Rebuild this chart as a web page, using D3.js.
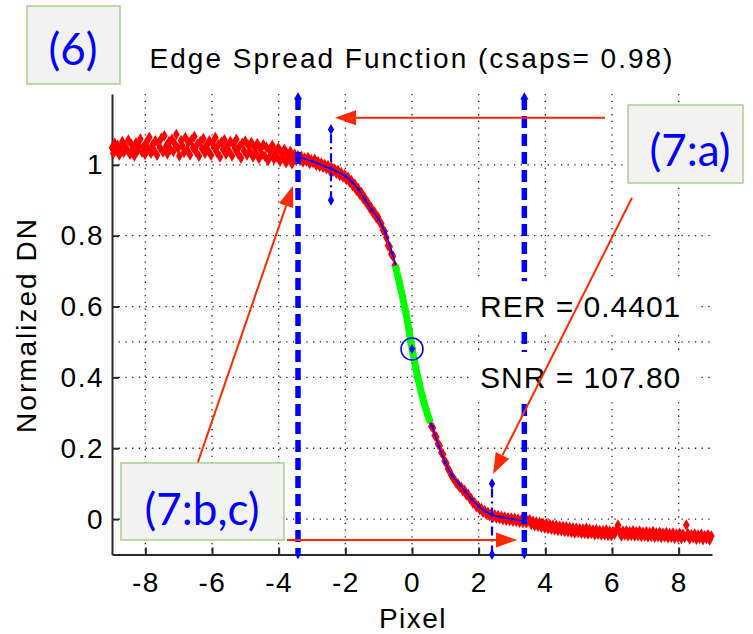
<!DOCTYPE html>
<html><head><meta charset="utf-8">
<script src="https://cdn.jsdelivr.net/npm/d3@7"></script>
<style>body{margin:0;background:#fff}svg{display:block}</style>
</head><body><svg id="c" width="753" height="634"></svg>
<script>
// ---------- data ----------
const xTicks = [-8, -6, -4, -2, 0, 2, 4, 6, 8];
const yTicks = [0, 0.2, 0.4, 0.6, 0.8, 1];
const halfLevel = 0.5;
const titleText = "Edge Spread Function (csaps= 0.98)";
const xLabel = "Pixel";
const yLabel = "Normalized DN";

// red ESF samples (flat high side)
const esfLeft = [[-9.00,1.048],[-8.96,1.032],[-8.92,1.061],[-8.87,1.040],[-8.83,1.055],[-8.78,1.028],[-8.74,1.050],[-8.69,1.066],[-8.65,1.035],[-8.60,1.052],[-8.55,1.043],[-8.51,1.070],[-8.46,1.030],[-8.42,1.058],[-8.37,1.047],[-8.33,1.025],[-8.28,1.062],[-8.24,1.039],[-8.19,1.054],[-8.15,1.073],[-8.10,1.036],[-8.06,1.050],[-8.01,1.029],[-7.97,1.064],[-7.92,1.045],[-7.88,1.078],[-7.83,1.033],[-7.79,1.056],[-7.74,1.041],[-7.70,1.068],[-7.65,1.027],[-7.61,1.060],[-7.56,1.048],[-7.52,1.075],[-7.47,1.036],[-7.43,1.082],[-7.38,1.052],[-7.34,1.031],[-7.29,1.066],[-7.25,1.044],[-7.20,1.072],[-7.16,1.038],[-7.11,1.059],[-7.07,1.086],[-7.02,1.047],[-6.98,1.025],[-6.93,1.069],[-6.89,1.054],[-6.84,1.035],[-6.80,1.077],[-6.75,1.043],[-6.71,1.062],[-6.66,1.028],[-6.62,1.070],[-6.57,1.049],[-6.53,1.080],[-6.48,1.037],[-6.44,1.058],[-6.39,1.024],[-6.35,1.066],[-6.30,1.046],[-6.26,1.074],[-6.21,1.033],[-6.17,1.055],[-6.12,1.041],[-6.08,1.068],[-6.03,1.027],[-5.99,1.061],[-5.94,1.050],[-5.90,1.077],[-5.85,1.035],[-5.81,1.057],[-5.76,1.022],[-5.72,1.064],[-5.67,1.044],[-5.63,1.071],[-5.58,1.030],[-5.54,1.053],[-5.49,1.039],[-5.45,1.066],[-5.40,1.025],[-5.36,1.058],[-5.31,1.046],[-5.27,1.072],[-5.22,1.031],[-5.18,1.052],[-5.13,1.019],[-5.09,1.061],[-5.04,1.040],[-5.00,1.067],[-4.95,1.028],[-4.91,1.055],[-4.86,1.037],[-4.82,1.063],[-4.77,1.022],[-4.73,1.049],[-4.68,1.034],[-4.64,1.060],[-4.59,1.018],[-4.55,1.046],[-4.50,1.030],[-4.46,1.057],[-4.41,1.024],[-4.37,1.050],[-4.32,1.012],[-4.28,1.042],[-4.23,1.028],[-4.19,1.055],[-4.14,1.016],[-4.10,1.038],[-4.05,1.023],[-4.01,1.048],[-3.96,1.010],[-3.92,1.035],[-3.87,1.020],[-3.83,1.044],[-3.78,1.006],[-3.74,1.030],[-3.69,1.015],[-3.65,1.038],[-3.60,1.003],[-3.56,1.025]];

// red ESF samples (transition)
const esfMid = [[-3.52,1.030],[-3.47,1.012],[-3.42,1.026],[-3.37,1.015],[-3.32,1.024],[-3.27,1.008],[-3.22,1.019],[-3.17,1.011],[-3.12,1.021],[-3.07,1.004],[-3.02,1.014],[-2.97,1.006],[-2.92,1.016],[-2.87,0.999],[-2.82,1.009],[-2.77,0.996],[-2.72,1.005],[-2.67,0.993],[-2.62,1.001],[-2.57,0.990],[-2.52,0.998],[-2.47,0.985],[-2.42,0.993],[-2.37,0.981],[-2.32,0.988],[-2.27,0.976],[-2.22,0.984],[-2.17,0.970],[-2.12,0.978],[-2.07,0.966],[-2.02,0.972],[-1.97,0.959],[-1.92,0.965],[-1.87,0.951],[-1.82,0.956],[-1.77,0.940],[-1.72,0.946],[-1.67,0.928],[-1.62,0.934],[-1.57,0.917],[-1.52,0.922],[-1.47,0.905],[-1.42,0.908],[-1.37,0.892],[-1.32,0.893],[-1.27,0.878],[-1.22,0.879],[-1.17,0.864],[-1.12,0.866],[-1.07,0.851],[-1.02,0.853],[-0.97,0.838],[-0.92,0.834],[-0.87,0.816],[-0.82,0.812],[-0.77,0.795],[-0.72,0.772],[-0.67,0.769],[-0.62,0.748],[-0.57,0.742],[-0.52,0.716],[-0.47,0.708],[-0.42,0.683],[-0.37,0.670],[-0.32,0.641],[-0.27,0.628],[-0.22,0.601],[-0.17,0.585],[-0.12,0.556],[-0.07,0.535],[-0.02,0.498],[0.03,0.480],[0.08,0.447],[0.13,0.430],[0.18,0.398],[0.23,0.384],[0.28,0.357],[0.33,0.347],[0.38,0.321],[0.43,0.312],[0.48,0.290],[0.53,0.282],[0.58,0.262],[0.63,0.257],[0.68,0.236],[0.73,0.232],[0.78,0.212],[0.83,0.207],[0.88,0.188],[0.93,0.183],[0.98,0.164],[1.03,0.158],[1.08,0.142],[1.13,0.135],[1.18,0.124],[1.23,0.116],[1.28,0.110],[1.33,0.101],[1.38,0.099],[1.43,0.090],[1.48,0.090],[1.53,0.079],[1.58,0.081],[1.63,0.069],[1.68,0.070],[1.73,0.058],[1.78,0.057],[1.83,0.045],[1.88,0.046],[1.93,0.035],[1.98,0.037],[2.03,0.027],[2.08,0.030],[2.13,0.019],[2.18,0.024],[2.23,0.014],[2.28,0.019],[2.33,0.009],[2.38,0.015],[2.43,0.006],[2.48,0.012],[2.53,0.003],[2.58,0.010],[2.63,0.001],[2.68,0.008],[2.73,-0.002],[2.78,0.006],[2.83,-0.003],[2.88,0.004],[2.93,-0.004],[2.98,0.003],[3.03,-0.006],[3.08,0.002],[3.13,-0.007],[3.18,0.000],[3.23,-0.009],[3.28,-0.001],[3.33,-0.010],[3.38,-0.002],[3.43,-0.011],[3.48,-0.004]];

// red ESF samples (flat low side)
const esfRight = [[3.53,-0.002],[3.58,-0.015],[3.63,-0.006],[3.68,-0.019],[3.73,-0.008],[3.78,-0.020],[3.83,-0.010],[3.88,-0.023],[3.93,-0.012],[3.98,-0.025],[4.03,-0.013],[4.08,-0.027],[4.13,-0.015],[4.18,-0.029],[4.23,-0.017],[4.28,-0.030],[4.33,-0.018],[4.38,-0.032],[4.43,-0.020],[4.48,-0.033],[4.53,-0.021],[4.58,-0.035],[4.63,-0.022],[4.68,-0.036],[4.73,-0.024],[4.78,-0.037],[4.83,-0.025],[4.88,-0.039],[4.93,-0.026],[4.98,-0.038],[5.03,-0.027],[5.08,-0.040],[5.13,-0.028],[5.18,-0.041],[5.23,-0.026],[5.28,-0.042],[5.33,-0.029],[5.38,-0.041],[5.43,-0.031],[5.48,-0.044],[5.53,-0.030],[5.58,-0.043],[5.63,-0.032],[5.68,-0.045],[5.73,-0.033],[5.78,-0.044],[5.83,-0.031],[5.88,-0.046],[5.93,-0.034],[5.98,-0.047],[6.03,-0.035],[6.08,-0.042],[6.13,-0.030],[6.18,-0.017],[6.23,-0.036],[6.28,-0.048],[6.33,-0.034],[6.38,-0.045],[6.43,-0.033],[6.48,-0.047],[6.53,-0.035],[6.58,-0.046],[6.63,-0.033],[6.68,-0.048],[6.73,-0.036],[6.78,-0.047],[6.83,-0.034],[6.88,-0.049],[6.93,-0.037],[6.98,-0.048],[7.03,-0.036],[7.08,-0.050],[7.13,-0.038],[7.18,-0.049],[7.23,-0.035],[7.28,-0.051],[7.33,-0.039],[7.38,-0.050],[7.43,-0.037],[7.48,-0.052],[7.53,-0.040],[7.58,-0.050],[7.63,-0.038],[7.68,-0.053],[7.73,-0.041],[7.78,-0.051],[7.83,-0.039],[7.88,-0.054],[7.93,-0.042],[7.98,-0.052],[8.03,-0.040],[8.08,-0.055],[8.13,-0.043],[8.18,-0.052],[8.23,-0.017],[8.28,-0.041],[8.33,-0.056],[8.38,-0.044],[8.43,-0.053],[8.48,-0.042],[8.53,-0.057],[8.58,-0.045],[8.63,-0.054],[8.68,-0.043],[8.73,-0.058],[8.78,-0.047],[8.83,-0.055],[8.88,-0.044],[8.93,-0.059],[8.98,-0.048]];

// csaps fit (blue)
const fitX = [-3.42,-3.0,-2.6,-2.4,-2.0,-1.8,-1.6,-1.4,-1.2,-1.0,-0.8,-0.6,-0.45,-0.3,-0.15,0,0.15,0.3,0.45,0.6,0.8,1.0,1.2,1.4,1.6,1.8,2.0,2.2,2.4,2.7,3.0,3.37];
const fitY = [1.022,1.010,0.995,0.987,0.968,0.952,0.930,0.900,0.872,0.846,0.808,0.752,0.703,0.634,0.565,0.482,0.410,0.350,0.300,0.262,0.207,0.160,0.124,0.101,0.078,0.055,0.036,0.022,0.012,0.005,0.000,-0.006];

// linear region (green)
const linX = [-0.5,-0.4,-0.3,-0.15,0,0.15,0.3,0.45,0.55];
const linY = [0.716,0.676,0.634,0.565,0.482,0.410,0.350,0.300,0.272];

const midPoint = [0, 0.48];
const edgeLimits = [-3.42, 3.37];
const rangeBars = [[-2.43, 0.9, 1.1], [2.40, -0.1, 0.1]];
const statLines = ["RER = 0.4401", "SNR = 107.80"];
const statBaseY = [0.57, 0.37];

// annotation arrows in data units [x0,y0,x1,y1]
const arrows = [[5.79,1.133,-2.31,1.133],[6.6,0.907,2.43,0.127],[-6.45,0.153,-3.57,0.941],[-3.75,-0.059,3.15,-0.059]];
const labels = ["(6)", "(7:a)", "(7:b,c)"];

// ---------- drawing ----------
const svg = d3.select("#c");
const FONT = "'Liberation Sans', Arial, Helvetica, sans-serif";
const x = d3.scaleLinear().domain([-9, 9]).range([112, 712]);
const y = d3.scaleLinear().domain([-0.1, 1.2]).range([554.5, 94]);
const [x0, x1] = x.range(), [yb, yt] = y.range();

// grid
const grid = svg.append("g").attr("stroke", "#222").attr("stroke-width", 1.3).attr("stroke-dasharray", "1.3,5.4");
grid.selectAll(".v").data(xTicks).join("line").attr("x1", d => x(d)).attr("x2", d => x(d)).attr("y1", yt).attr("y2", yb);
grid.selectAll(".h").data(yTicks.concat([halfLevel])).join("line").attr("y1", d => y(d)).attr("y2", d => y(d)).attr("x1", x0).attr("x2", x1);

// axes
const xAxis = d3.axisBottom(x).tickValues(xTicks).tickSizeInner(-7).tickSizeOuter(0).tickPadding(18).tickFormat(d => String(d));
const yAxis = d3.axisLeft(y).tickValues(yTicks).tickSizeInner(-7).tickSizeOuter(0).tickPadding(8).tickFormat(d => String(d));
function styleAxis(g) {
  g.attr("font-family", FONT).attr("font-size", 28);
  g.select(".domain").attr("stroke", "#2a2a2a").attr("stroke-width", 2);
  g.selectAll(".tick line").attr("stroke", "#2a2a2a").attr("stroke-width", 2);
  g.selectAll(".tick text").attr("fill", "#000").style("letter-spacing", "1.5px");
}
svg.append("g").attr("transform", `translate(0,${yb})`).call(xAxis).call(styleAxis);
svg.append("g").attr("transform", `translate(${x0},0)`).call(yAxis).call(styleAxis);

// title & labels
svg.append("text").attr("x", 412).attr("y", 68).attr("text-anchor", "middle").attr("font-family", FONT).attr("font-size", 28).style("letter-spacing", "2px").text(titleText);
svg.append("text").attr("x", 413).attr("y", 628).attr("text-anchor", "middle").attr("font-family", FONT).attr("font-size", 28).style("letter-spacing", "1.5px").text(xLabel);
svg.append("text").attr("transform", "translate(36,325) rotate(-90)").attr("text-anchor", "middle").attr("font-family", FONT).attr("font-size", 28).style("letter-spacing", "2px").text(yLabel);

// red ESF points
const esf = esfLeft.concat(esfMid, esfRight);
const diamond = d3.symbol().type(d3.symbolDiamond).size(22);
svg.append("g").selectAll("path").data(esf).join("path")
  .attr("transform", d => `translate(${x(d[0])},${y(d[1])})`)
  .attr("d", diamond).attr("fill", "#ff0000").attr("stroke", "#ff0000").attr("stroke-width", 1.4);

// blue fit
const fitPts = fitX.map((v, i) => [v, fitY[i]]);
const line = d3.line().x(d => x(d[0])).y(d => y(d[1])).curve(d3.curveMonotoneX);
svg.append("path").datum(fitPts).attr("d", line).attr("fill", "none").attr("stroke", "#0000ff").attr("stroke-width", 1.5);
svg.append("g").selectAll("circle").data(fitPts).join("circle")
  .attr("cx", d => x(d[0])).attr("cy", d => y(d[1])).attr("r", 1.6).attr("fill", "#0000ff");

// green linear region
const linPts = linX.map((v, i) => [v, linY[i]]);
svg.append("path").datum(linPts).attr("d", line).attr("fill", "none").attr("stroke", "#00ff00").attr("stroke-width", 7);

// mid point circle
svg.append("circle").attr("cx", x(midPoint[0])).attr("cy", y(midPoint[1])).attr("r", 11).attr("fill", "none").attr("stroke", "#0000ff").attr("stroke-width", 1.5);
svg.append("path").attr("transform", `translate(${x(midPoint[0])},${y(midPoint[1])})`).attr("d", d3.symbol().type(d3.symbolDiamond).size(30)).attr("fill", "#0000ff");

// thick dashed edge limits
const edges = svg.append("g");
edges.selectAll("line").data(edgeLimits).join("line")
  .attr("x1", d => x(d)).attr("x2", d => x(d)).attr("y1", yt + 4).attr("y2", yb)
  .attr("stroke", "#0000ff").attr("stroke-width", 5.5).attr("stroke-dasharray", "12,6");
edges.selectAll(".top").data(edgeLimits).join("path")
  .attr("transform", d => `translate(${x(d)},${yt + 3})`)
  .attr("d", d3.symbol().type(d3.symbolTriangle).size(30)).attr("fill", "#0000ff");
edges.selectAll(".bot").data(edgeLimits).join("path")
  .attr("transform", d => `translate(${x(d)},${yb})`)
  .attr("d", d3.symbol().type(d3.symbolDiamond).size(26)).attr("fill", "#0000ff");

// thin dash-dot range bars
const bars = svg.append("g");
bars.selectAll("line").data(rangeBars).join("line")
  .attr("x1", d => x(d[0])).attr("x2", d => x(d[0])).attr("y1", d => y(d[1])).attr("y2", d => y(d[2]))
  .attr("stroke", "#0000ff").attr("stroke-width", 2.2).attr("stroke-dasharray", "9,4,2,4");
bars.selectAll(".e1").data(rangeBars.flatMap(d => [[d[0], d[1]], [d[0], d[2]]])).join("path")
  .attr("transform", d => `translate(${x(d[0])},${y(d[1])})`)
  .attr("d", d3.symbol().type(d3.symbolDiamond).size(34)).attr("fill", "#0000ff");

// statistics text with white background
const stats = svg.append("g");
statLines.forEach((t, i) => {
  const by = y(statBaseY[i]);
  stats.append("rect").attr("x", 470).attr("y", by - 36).attr("width", 226).attr("height", 50).attr("fill", "#fff");
  stats.append("text").attr("x", 480).attr("y", by).attr("font-family", FONT).attr("font-size", 30).style("letter-spacing", "1px").text(t);
});

// red arrows
const arr = svg.append("g");
arrows.forEach(a => {
  const X0 = x(a[0]), Y0 = y(a[1]), X1 = x(a[2]), Y1 = y(a[3]);
  const ang = Math.atan2(Y1 - Y0, X1 - X0), L = 21, Wd = 7.5;
  const bx = X1 - L * Math.cos(ang), by = Y1 - L * Math.sin(ang);
  arr.append("line").attr("x1", X0).attr("y1", Y0).attr("x2", bx).attr("y2", by).attr("stroke", "#ff2a00").attr("stroke-width", 2);
  const px = -Math.sin(ang) * Wd, py = Math.cos(ang) * Wd;
  arr.append("path").attr("d", `M${X1},${Y1}L${bx + px},${by + py}L${bx - px},${by - py}Z`).attr("fill", "#ff2a00");
});

// label boxes
const boxes = [[27, 6, 93, 78, 73, 65], [628, 105, 115, 78, 690, 166], [121, 463, 163, 77, 202, 525]];
const bg = svg.append("g");
boxes.forEach((b, i) => {
  bg.append("rect").attr("x", b[0]).attr("y", b[1]).attr("width", b[2]).attr("height", b[3]).attr("fill", "#f2f2f2").attr("stroke", "#a9d18e").attr("stroke-width", 1.5);
  bg.append("text").attr("x", b[4]).attr("y", b[5]).attr("text-anchor", "middle").attr("font-family", "Lato, 'Open Sans', sans-serif").attr("font-size", 44).attr("fill", "#0000ff").text(labels[i]);
});
</script></body></html>
